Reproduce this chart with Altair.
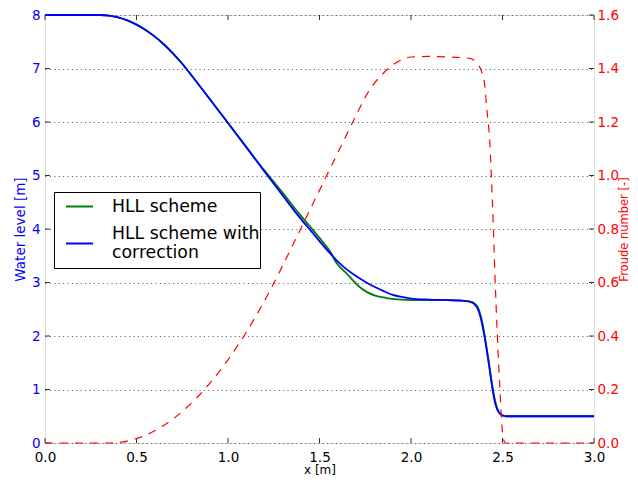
import altair as alt
import pandas as pd

# ---- data ----
x_hll = [0.0, 0.3, 0.35, 0.4, 0.45, 0.5, 0.55, 0.6, 0.65, 0.7, 0.75, 0.8, 0.9, 1.0, 1.1,
         1.2, 1.3, 1.4, 1.467, 1.52, 1.567, 1.58, 1.594, 1.62, 1.648, 1.68, 1.721, 1.76,
         1.8, 1.867, 1.95, 2.05, 2.2, 2.28, 2.32, 2.35, 2.37, 2.39, 2.41, 2.43, 2.45,
         2.465, 2.48, 2.5, 2.52, 3.0]
h_hll = [8.0, 8.0, 7.989, 7.955, 7.899, 7.82, 7.719, 7.595, 7.449, 7.28, 7.089, 6.875, 6.43,
         5.98, 5.53, 5.09, 4.67, 4.24, 3.97, 3.75, 3.53, 3.44, 3.36, 3.26, 3.17, 3.05, 2.91,
         2.82, 2.76, 2.71, 2.68, 2.67, 2.67, 2.66, 2.645, 2.6, 2.5, 2.25, 1.85, 1.4, 0.95,
         0.72, 0.58, 0.52, 0.5, 0.5]

x_corr = [0.0, 0.3, 0.35, 0.4, 0.45, 0.5, 0.55, 0.6, 0.65, 0.7, 0.75, 0.8, 0.9, 1.0, 1.1,
          1.2, 1.3, 1.4, 1.457, 1.503, 1.567, 1.6, 1.65, 1.7, 1.75, 1.8, 1.85, 1.9, 1.95,
          2.0, 2.1, 2.2, 2.28, 2.32, 2.345, 2.36, 2.38, 2.40, 2.42, 2.446, 2.46, 2.475,
          2.495, 2.52, 3.0]
h_corr = [8.0, 8.0, 7.989, 7.955, 7.899, 7.82, 7.719, 7.595, 7.449, 7.28, 7.089, 6.875, 6.43,
          5.98, 5.53, 5.07, 4.62, 4.18, 3.95, 3.76, 3.51, 3.39, 3.24, 3.12, 3.01, 2.92, 2.84,
          2.77, 2.73, 2.70, 2.68, 2.67, 2.66, 2.64, 2.6, 2.54, 2.35, 2.02, 1.6, 1.0, 0.74,
          0.6, 0.52, 0.5, 0.5]

x_fr = [0.0, 0.3, 0.35, 0.4, 0.45, 0.5, 0.55, 0.6, 0.65, 0.7, 0.75, 0.8, 0.85, 0.9, 0.95,
        1.0, 1.05, 1.1, 1.15, 1.2, 1.25, 1.3, 1.4, 1.5, 1.6, 1.7, 1.75, 1.8, 1.85, 1.9,
        1.95, 2.0, 2.1, 2.2, 2.322, 2.359, 2.386, 2.404, 2.413, 2.43, 2.445, 2.459, 2.472,
        2.486, 2.50, 2.515, 3.0]
froude = [0.0, 0.0, 0.0, 0.002, 0.007, 0.017, 0.029, 0.046, 0.066, 0.090, 0.118, 0.149,
          0.184, 0.223, 0.265, 0.311, 0.361, 0.414, 0.472, 0.532, 0.597, 0.665, 0.805,
          0.945, 1.085, 1.225, 1.293, 1.345, 1.383, 1.413, 1.433, 1.443, 1.445, 1.443,
          1.438, 1.42, 1.388, 1.332, 1.257, 1.13, 0.9, 0.62, 0.40, 0.2, 0.04, 0.0, 0.0]

x_ticks = [0.0, 0.5, 1.0, 1.5, 2.0, 2.5, 3.0]
h_ticks = [0, 1, 2, 3, 4, 5, 6, 7, 8]
fr_ticks = [0.0, 0.2, 0.4, 0.6, 0.8, 1.0, 1.2, 1.4, 1.6]

S_HLL = "HLL scheme"
S_COR = "HLL scheme with\u00a0|\u00a0correction"

df_hll = pd.DataFrame({"x": x_hll, "h": h_hll, "series": S_HLL})
df_cor = pd.DataFrame({"x": x_corr, "h": h_corr, "series": S_COR})
df_fr = pd.DataFrame({"x": x_fr, "f": froude})
df_xt = pd.DataFrame({"x": x_ticks})
df_ht = pd.DataFrame({"h": h_ticks})
df_ft = pd.DataFrame({"f": fr_ticks})

W, H = 549, 428
FS = 13.5
FONT = "DejaVu Sans"

xscale = alt.Scale(domain=[0, 3], nice=False, zero=False)
hscale = alt.Scale(domain=[0, 8], nice=False)
fscale = alt.Scale(domain=[0, 1.6], nice=False)
cscale = alt.Scale(domain=[S_HLL, S_COR], range=["#008000", "#0000ff"])

xaxis = alt.Axis(title="x [m]", values=x_ticks, format=".1f", ticks=False, domain=False,
                 grid=False, labelFlush=False, labelPadding=7, titlePadding=1,
                 labelColor="black", titleColor="black", labelFontSize=FS, titleFontSize=12,
                 titleFontWeight="normal", labelFont=FONT, titleFont=FONT)
haxis = alt.Axis(title="Water level [m]", values=h_ticks, format="d", ticks=False, domain=False,
                 grid=True, gridDash=[1.1, 3.3], gridColor="#333333", gridWidth=0.8,
                 labelColor="#0000ff", titleColor="#0000ff", labelPadding=5, titlePadding=4,
                 labelFontSize=FS, titleFontSize=FS, titleFontWeight="normal",
                 labelFont=FONT, titleFont=FONT)
faxis = alt.Axis(orient="right", title="Froude number [-]", values=fr_ticks, format=".1f",
                 ticks=False, domain=False, grid=False, labelColor="#ff0000",
                 titleColor="#ff0000", labelPadding=3, titlePadding=0.5, titleAngle=270,
                 titleBaseline="top", labelFontSize=FS, titleFontSize=11.5,
                 titleFontWeight="normal", labelFont=FONT, titleFont=FONT)

legend = alt.Legend(orient="none", legendX=9, legendY=177,
                    title="\u00a0", titleOrient="bottom", titleFontSize=4, titlePadding=3,
                    strokeColor="black", fillColor="white", padding=0, symbolOffset=11,
                    symbolType="stroke", symbolStrokeWidth=2, symbolSize=729,
                    labelFontSize=17.3, labelFont=FONT, labelColor="black",
                    labelOffset=18, labelLimit=0, rowPadding=9, cornerRadius=0,
                    labelExpr="split(datum.label, '|')",
                    labelBaseline={"expr": "indexof(datum.label, '|') >= 0 ? 'line-bottom' : 'middle'"})

X = alt.X("x:Q", scale=xscale, axis=xaxis)
Yh = alt.Y("h:Q", scale=hscale, axis=haxis)
Yf = alt.Y("f:Q", scale=fscale, axis=faxis)
C = alt.Color("series:N", scale=cscale, legend=legend)

tick_col = "#333333"
tick_bot = alt.Chart(df_xt).mark_rule(color=tick_col, strokeWidth=1).encode(
    x=X, y=alt.value(H), y2=alt.value(H - 5))
tick_top = alt.Chart(df_xt).mark_rule(color=tick_col, strokeWidth=1).encode(
    x=X, y=alt.value(0), y2=alt.value(5))
tick_left = alt.Chart(df_ht).mark_rule(color=tick_col, strokeWidth=1).encode(
    y=Yh, x=alt.value(0), x2=alt.value(5))
tick_right = alt.Chart(df_ft).mark_rule(color=tick_col, strokeWidth=1).encode(
    y=Yf, x=alt.value(W), x2=alt.value(W - 5))

green = alt.Chart(df_hll).mark_line(strokeWidth=1.8, interpolate="monotone").encode(
    x=X, y=Yh, color=C)
blue = alt.Chart(df_cor).mark_line(strokeWidth=1.8, interpolate="monotone").encode(
    x=X, y=Yh, color=C)
fr_line = alt.Chart(df_fr).mark_line(color="#ff0000", strokeWidth=1.2, strokeDash=[8, 7],
                                     interpolate="monotone").encode(x=X, y=Yf)

left = alt.layer(tick_bot, tick_top, tick_left, green, blue)
right = alt.layer(tick_right, fr_line)

chart = alt.layer(left, right).resolve_scale(y="independent").properties(
    width=W, height=H, autosize="none",
    padding={"left": 37, "top": 7, "right": 36, "bottom": 34},
).configure_view(stroke="black", strokeWidth=1).configure(font=FONT)

chart.save("out.html", embed_options={"renderer": "svg", "actions": False})
